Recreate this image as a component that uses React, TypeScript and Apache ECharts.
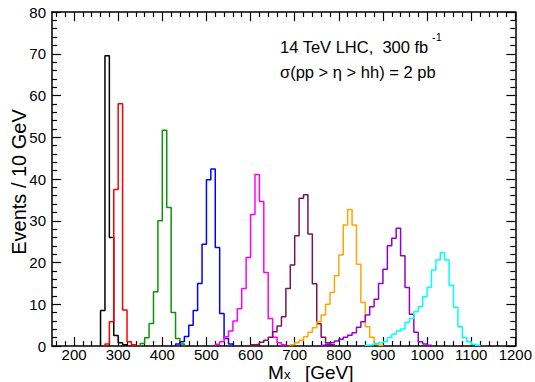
import React, { useEffect, useRef } from "react";
import * as echarts from "echarts";

const BIN_WIDTH = 10;
const X_MIN = 150;
const X_MAX = 1200;
const Y_MAX = 80;

const xTickLabels = [200, 300, 400, 500, 600, 700, 800, 900, 1000, 1100, 1200];
const yTickLabels = [0, 10, 20, 30, 40, 50, 60, 70, 80];

// lower edge of the first bin and bin contents (events / 10 GeV)
const blackStart = 260;
const blackValues = [8.5, 69.5, 26, 2.5, 0.8, 0.3];
const redStart = 270;
const redValues = [0.5, 5.8, 37.5, 58, 8.6, 1, 0.3];
const greenStart = 350;
const greenValues = [0.6, 2, 5.4, 13, 30, 51.7, 33.2, 8, 1.8, 0.5];
const blueStart = 430;
const blueValues = [0.5, 1, 2.3, 5, 8.5, 15, 24.4, 39.8, 42.4, 23.6, 7.8, 1.8, 0.5];
const magentaStart = 520;
const magentaValues = [0.4, 1, 2.2, 3.6, 6, 8.9, 13.8, 21.2, 31.5, 41.1, 34.6, 17.6, 6.6, 2.1, 0.8, 0.3];
const maroonStart = 600;
const maroonValues = [0.3, 0.4, 0.9, 1.4, 2.1, 3.4, 4.8, 7, 13.8, 19.4, 26.4, 35.4, 36.2, 26.8, 14.9, 5.3, 2.1, 0.8, 0.3];
const orangeStart = 690;
const orangeValues = [0.3, 0.8, 1.4, 2.2, 3.3, 4.4, 5.8, 7.4, 10, 12.8, 16.8, 21.8, 29, 32.7, 29, 19.6, 10.4, 4.6, 2.1, 0.6, 0.2];
const purpleStart = 760;
const purpleValues = [0.2, 0.4, 0.8, 1.2, 1.6, 2.1, 2.6, 3.2, 4.5, 5.8, 7.4, 9.4, 11.2, 15, 18.4, 24, 25.8, 28.2, 21.6, 14, 7.6, 3.3, 1, 0.5, 0.2];
const cyanStart = 860;
const cyanValues = [0.2, 0.3, 0.5, 0.8, 1, 2, 2.8, 3.6, 4.1, 5.6, 6.6, 8.2, 9.4, 11.8, 14, 18.2, 20.6, 22.4, 20.6, 14.5, 9.3, 4.6, 2, 1, 0.4, 0.2];

const FONT = "'Liberation Sans', Arial, Helvetica, sans-serif";

function stepData(start: number, values: number[]) {
  const pts: number[][] = [[start, 0]];
  values.forEach((v, i) => pts.push([start + i * BIN_WIDTH, v]));
  const end = start + values.length * BIN_WIDTH;
  pts.push([end, values[values.length - 1]]);
  pts.push([end, 0]);
  return pts;
}

const histos = [
  { start: blackStart, values: blackValues, color: "#000000" },
  { start: redStart, values: redValues, color: "#ff0000" },
  { start: greenStart, values: greenValues, color: "#0a930a" },
  { start: blueStart, values: blueValues, color: "#0000ff" },
  { start: magentaStart, values: magentaValues, color: "#ff00ff" },
  { start: maroonStart, values: maroonValues, color: "#7a1550" },
  { start: orangeStart, values: orangeValues, color: "#ffa500" },
  { start: purpleStart, values: purpleValues, color: "#9400d3" },
  { start: cyanStart, values: cyanValues, color: "#00ffff" },
];

const minorX: number[] = [];
for (let v = X_MIN + 10; v < X_MAX; v += 20) {
  if (v % 100 !== 0) minorX.push(v);
}

function xAxisDef(position: "bottom" | "top", major: boolean) {
  return {
    type: "value",
    min: X_MIN,
    max: X_MAX,
    position,
    axisLine: { show: major, onZero: false, lineStyle: { color: "#000", width: 1.5 } },
    axisTick: {
      show: true,
      inside: true,
      length: major ? 9 : 5,
      customValues: major ? xTickLabels : minorX,
      lineStyle: { color: "#000", width: 1.2 },
    },
    axisLabel: {
      show: major && position === "bottom",
      customValues: xTickLabels,
      fontSize: 15,
      lineHeight: 14,
      fontFamily: FONT,
      color: "#000",
      margin: 1,
      formatter: (v: number) => String(v),
    },
    splitLine: { show: false },
  };
}

function yAxisDef(position: "left" | "right") {
  return {
    type: "value",
    min: 0,
    max: Y_MAX,
    interval: 10,
    position,
    axisLine: { show: true, onZero: false, lineStyle: { color: "#000", width: 1.5 } },
    axisTick: { show: true, inside: true, length: 9, lineStyle: { color: "#000", width: 1.2 } },
    minorTick: { show: true, splitNumber: 5, length: 5, lineStyle: { color: "#000", width: 1.2 } },
    axisLabel: {
      show: position === "left",
      fontSize: 15,
      fontFamily: FONT,
      color: "#000",
      margin: 6,
      showMinLabel: true,
      showMaxLabel: true,
      formatter: (v: number) => (yTickLabels.includes(v) ? String(v) : ""),
    },
    splitLine: { show: false },
  };
}

export default function App() {
  const ref = useRef<HTMLDivElement>(null);
  useEffect(() => {
    document.body.style.margin = "0";
    const chart = echarts.init(ref.current!, null, { renderer: "svg" });
    chart.setOption({
      animation: false,
      backgroundColor: "#ffffff",
      grid: { left: 52, right: 18, top: 12, bottom: 36 },
      xAxis: [
        xAxisDef("bottom", true),
        xAxisDef("bottom", false),
        xAxisDef("top", true),
        xAxisDef("top", false),
      ],
      yAxis: [yAxisDef("left"), yAxisDef("right")],
      series: histos.map((h) => ({
        type: "line",
        step: "end",
        xAxisIndex: 0,
        yAxisIndex: 0,
        showSymbol: false,
        symbol: "none",
        data: stepData(h.start, h.values),
        lineStyle: { color: h.color, width: 1.5 },
        itemStyle: { color: h.color },
      })),
      graphic: [
        {
          type: "text",
          x: 280,
          y: 47,
          style: { text: "14 TeV LHC,  300 fb", fontSize: 16.5, fontFamily: FONT, fill: "#000", align: "left", verticalAlign: "middle" },
        },
        {
          type: "text",
          x: 432,
          y: 37,
          style: { text: "-1", fontSize: 11, fontFamily: FONT, fill: "#000", align: "left", verticalAlign: "middle" },
        },
        {
          type: "text",
          x: 280,
          y: 72,
          style: { text: "σ(pp > η > hh) = 2 pb", fontSize: 16.5, fontFamily: FONT, fill: "#000", align: "left", verticalAlign: "middle" },
        },
        {
          type: "text",
          x: 19,
          y: 182,
          rotation: Math.PI / 2,
          style: { text: "Events / 10 GeV", fontSize: 20, fontFamily: FONT, fill: "#000", align: "center", verticalAlign: "middle" },
        },
        {
          type: "text",
          x: 268,
          y: 381,
          style: { text: "M", fontSize: 19, lineHeight: 17, fontFamily: FONT, fill: "#000", align: "left", verticalAlign: "bottom" },
        },
        {
          type: "text",
          x: 284,
          y: 380,
          style: { text: "x", fontSize: 13, lineHeight: 11, fontFamily: FONT, fill: "#000", align: "left", verticalAlign: "bottom" },
        },
        {
          type: "text",
          x: 305,
          y: 381,
          style: { text: "[GeV]", fontSize: 19, lineHeight: 17, fontFamily: FONT, fill: "#000", align: "left", verticalAlign: "bottom" },
        },
      ],
    });
    return () => chart.dispose();
  }, []);
  return <div ref={ref} style={{ width: 535, height: 382 }} />;
}
